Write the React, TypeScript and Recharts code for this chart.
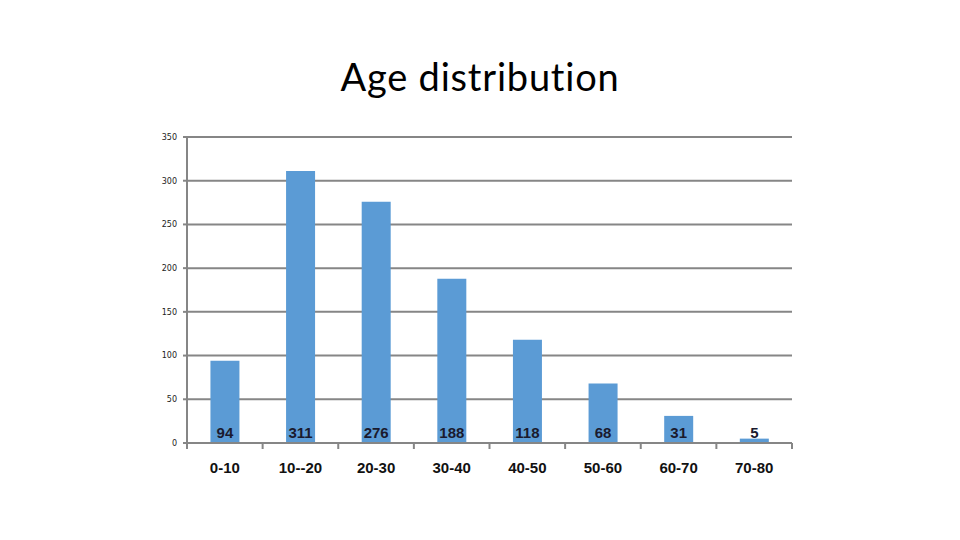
import React from 'react'
import {
    BarChart,
    Bar,
    XAxis,
    YAxis,
    CartesianGrid,
    LabelList
} from 'recharts'

const ageGroups = ['0-10', '10--20', '20-30', '30-40', '40-50', '50-60', '60-70', '70-80']
const counts = [94, 311, 276, 188, 118, 68, 31, 5]
const yTicks = [0, 50, 100, 150, 200, 250, 300, 350]

const data = ageGroups.map((g, i) => ({ group: g, count: counts[i] }))

const axisGray = '#868686'
const barBlue = '#5b9bd5'
const xTickSize = 6
const xTickMargin = 13

// category label plus the short tick marks that sit between the categories
const CategoryTick = (props: any) => {
    const { x, y, payload, index, visibleTicksCount } = props
    const half = payload.offset || 0
    const axisY = y - xTickSize - xTickMargin
    const isLast = index === visibleTicksCount - 1
    return (
        <g>
            <line x1={x - half} x2={x - half} y1={axisY} y2={axisY + xTickSize} stroke={axisGray} strokeWidth={2} />
            {isLast && (
                <line x1={x + half} x2={x + half} y1={axisY} y2={axisY + xTickSize} stroke={axisGray} strokeWidth={2} />
            )}
            <text
                x={x}
                y={y}
                dy="0.71em"
                textAnchor="middle"
                fill="#111"
                fontSize={15}
                fontWeight="bold"
                fontFamily="Liberation Sans"
            >
                {payload.value}
            </text>
        </g>
    )
}

export default function App() {
    return (
        <div style={{ position: 'absolute', left: 0, top: 0, width: 960, height: 540, background: '#fff' }}>
            <div style={{
                position: 'absolute',
                top: 53,
                left: 0,
                width: 960,
                textAlign: 'center',
                fontFamily: 'Lato, sans-serif',
                fontSize: 38,
                letterSpacing: 0.8,
                color: '#000'
            }}>
                Age distribution
            </div>
            <BarChart
                width={960}
                height={540}
                data={data}
                margin={{ top: 137, right: 168, left: 147, bottom: 67 }}
                barCategoryGap="31%"
            >
                <CartesianGrid vertical={false} stroke={axisGray} strokeWidth={2} />
                <XAxis
                    dataKey="group"
                    axisLine={{ stroke: axisGray, strokeWidth: 2 }}
                    tickLine={false}
                    tickSize={xTickSize}
                    tickMargin={xTickMargin}
                    height={30}
                    interval={0}
                    tick={<CategoryTick />}
                />
                <YAxis
                    width={40}
                    domain={[0, 350]}
                    ticks={yTicks}
                    interval={0}
                    axisLine={{ stroke: axisGray, strokeWidth: 2 }}
                    tickLine={{ stroke: axisGray, strokeWidth: 2 }}
                    tickSize={4}
                    tickMargin={6}
                    tick={{ fill: '#222', fontSize: 8, fontFamily: 'DejaVu Sans' }}
                />
                <Bar dataKey="count" fill={barBlue} isAnimationActive={false}>
                    <LabelList
                        dataKey="count"
                        position="insideBottom"
                        offset={5}
                        fill="#1a1a2e"
                        fontSize={15}
                        fontWeight="bold"
                        fontFamily="Liberation Sans"
                    />
                </Bar>
            </BarChart>
        </div>
    )
}
